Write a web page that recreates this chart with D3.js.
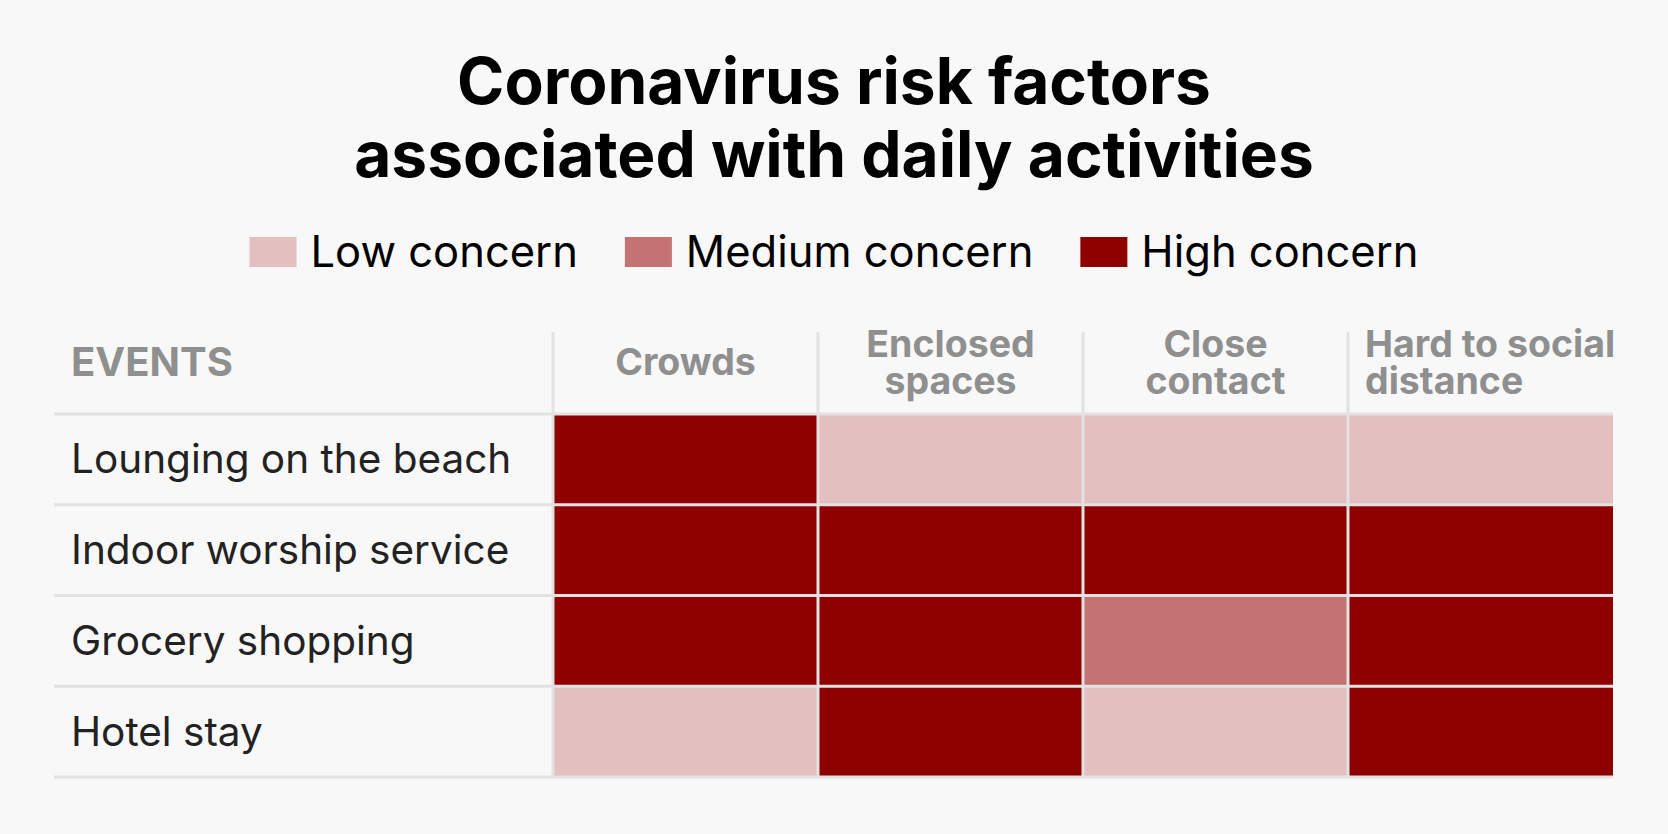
<!DOCTYPE html>
<html>
<head>
<meta charset="utf-8">
<script src="https://cdn.jsdelivr.net/npm/d3@7"></script>
<style>
  html, body { margin: 0; padding: 0; background: #f8f8f8; }
  svg { display: block; font-family: Inter, "Noto Sans", sans-serif; }
</style>
</head>
<body>
<div id="chart"></div>
<script>
// Dados
const titleLines = ["Coronavirus risk factors", "associated with daily activities"];
const levels = ["Low concern", "Medium concern", "High concern"];
const levelColors = ["#e3bfbf", "#c47272", "#8f0000"];
const factors = ["Crowds", "Enclosed spaces", "Close contact", "Hard to social distance"];
const factorLines = [["Crowds"], ["Enclosed", "spaces"], ["Close", "contact"], ["Hard to social", "distance"]];
const events = ["Lounging on the beach", "Indoor worship service", "Grocery shopping", "Hotel stay"];
const riskLounging = ["High concern", "Low concern", "Low concern", "Low concern"];
const riskWorship = ["High concern", "High concern", "High concern", "High concern"];
const riskGrocery = ["High concern", "High concern", "Medium concern", "High concern"];
const riskHotel = ["Low concern", "High concern", "Low concern", "High concern"];
const riskRows = [riskLounging, riskWorship, riskGrocery, riskHotel];

const W = 1668, H = 834;
const table = { left: 54, cellLeft: 553, right: 1613, headTop: 332, top: 414, bottom: 777 };
const headPad = 17;

const svg = d3.select("#chart").append("svg")
    .attr("width", W)
    .attr("height", H);

// Título
svg.append("g").selectAll("text")
    .data(titleLines)
    .enter()
    .append("text")
    .attr("x", W / 2)
    .attr("y", (d, i) => 104 + i * 73)
    .attr("text-anchor", "middle")
    .attr("font-size", "64px")
    .attr("font-weight", 700)
    .attr("fill", "#000")
    .text(d => d);

// Legenda
const color = d3.scaleOrdinal().domain(levels).range(levelColors);
const legend = svg.append("g");
const items = legend.selectAll("g")
    .data(levels)
    .enter()
    .append("g");
items.append("rect")
    .attr("y", 237)
    .attr("width", 47)
    .attr("height", 30)
    .attr("fill", d => color(d));
items.append("text")
    .attr("x", 61)
    .attr("y", 267)
    .attr("font-size", "43.5px")
    .attr("fill", "#000")
    .text(d => d);
let offset = 0;
items.each(function () {
    const g = d3.select(this);
    g.attr("transform", `translate(${offset},0)`);
    offset += 61 + g.select("text").node().getComputedTextLength() + 47;
});
offset -= 47;
legend.attr("transform", `translate(${(W - offset) / 2},0)`);

// Escalas
const x = d3.scaleBand().domain(factors).range([table.cellLeft, table.right]);
const y = d3.scaleBand().domain(events).range([table.top, table.bottom]);

// Células
const cells = [];
riskRows.forEach((row, i) => row.forEach((lvl, j) => cells.push({ event: events[i], factor: factors[j], level: lvl })));
svg.append("g").selectAll("rect")
    .data(cells)
    .enter()
    .append("rect")
    .attr("x", d => x(d.factor))
    .attr("y", d => y(d.event))
    .attr("width", x.bandwidth())
    .attr("height", y.bandwidth())
    .attr("fill", d => color(d.level));

// Linhas da grade
const grid = svg.append("g").attr("stroke", "#e2e2e2").attr("stroke-width", 3);
grid.selectAll(".h")
    .data([table.top].concat(events.map(e => y(e) + y.bandwidth())))
    .enter()
    .append("line")
    .attr("x1", table.left)
    .attr("x2", table.right)
    .attr("y1", d => d)
    .attr("y2", d => d);
grid.selectAll(".v")
    .data(factors)
    .enter()
    .append("line")
    .attr("x1", d => x(d))
    .attr("x2", d => x(d))
    .attr("y1", table.headTop)
    .attr("y2", table.bottom);

// Cabeçalho
const headMid = 361;
svg.append("text")
    .attr("x", 71)
    .attr("y", headMid + 15)
    .attr("font-size", "40px")
    .attr("font-weight", 700)
    .attr("fill", "#8f8f8f")
    .text("EVENTS");

const heads = svg.append("g").selectAll("g")
    .data(factors)
    .enter()
    .append("g");
heads.each(function (d, i) {
    const lines = factorLines[i];
    const g = d3.select(this);
    const t = g.selectAll("text")
        .data(lines)
        .enter()
        .append("text")
        .attr("y", (ln, k) => headMid + 14 + (k - (lines.length - 1) / 2) * 37)
        .attr("font-size", "37.5px")
        .attr("font-weight", 700)
        .attr("fill", "#8f8f8f")
        .text(ln => ln);
    // centraliza se couber, senão alinha à esquerda (como no HTML)
    const wide = d3.max(t.nodes(), n => n.getComputedTextLength());
    if (wide <= x.bandwidth() - 2 * headPad) {
        t.attr("text-anchor", "middle").attr("x", x(d) + x.bandwidth() / 2);
    } else {
        t.attr("x", x(d) + headPad);
    }
});

// Rótulos das linhas
svg.append("g").selectAll("text")
    .data(events)
    .enter()
    .append("text")
    .attr("x", 71)
    .attr("y", d => y(d) + y.bandwidth() / 2 + 14)
    .attr("font-size", "40.5px")
    .attr("fill", "#222")
    .text(d => d);
</script>
</body>
</html>
